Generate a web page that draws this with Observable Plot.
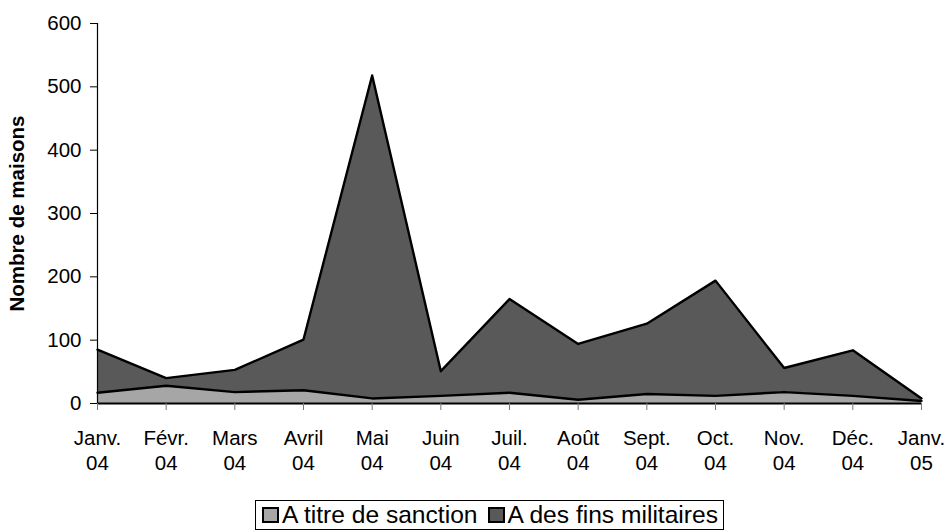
<!DOCTYPE html>
<html>
<head>
<meta charset="utf-8">
<script src="https://cdn.jsdelivr.net/npm/d3@7"></script>
<script src="https://cdn.jsdelivr.net/npm/@observablehq/plot@0.6"></script>
<style>
  body { margin: 0; background: #fff; font-family: "Liberation Sans", Arial, sans-serif; }
  #chart { width: 948px; }
  .legend { display: flex; justify-content: flex-start; margin-top: 5px; padding-left: 255px; }
  .legend .box { border: 1px solid #000; padding: 0 5px 0 6px; font-size: 24.6px; color: #000; display: flex; align-items: center; gap: 10px; line-height: 28px; }
  .legend .item { display: flex; align-items: center; gap: 3px; }
  .legend .sw { width: 17px; height: 16px; border: 2px solid #000; box-sizing: border-box; display: inline-block; }
</style>
</head>
<body>
<div id="chart"></div>
<script>
const months = ["Janv.\n04","Févr.\n04","Mars\n04","Avril\n04","Mai\n04","Juin\n04","Juil.\n04","Août\n04","Sept.\n04","Oct.\n04","Nov.\n04","Déc.\n04","Janv.\n05"];
const seriesNames = ["A titre de sanction", "A des fins militaires"];
const sanction = [17, 28, 18, 21, 8, 12, 17, 6, 15, 12, 18, 12, 4];
const militaires = [68, 12, 35, 80, 510, 39, 148, 88, 111, 182, 38, 72, 4];
const yTicks = [0, 100, 200, 300, 400, 500, 600];
const colors = ["#A6A6A6", "#595959"];

const data = [];
months.forEach((m, i) => {
  data.push({i, series: seriesNames[0], value: sanction[i]});
  data.push({i, series: seriesNames[1], value: militaires[i]});
});

const stackOpts = {x: "i", y: "value", z: "series", order: seriesNames};

const plot = Plot.plot({
  width: 948,
  height: 495,
  marginLeft: 97,
  marginRight: 27,
  marginTop: 23,
  marginBottom: 92,
  style: {fontFamily: "Liberation Sans, Arial, sans-serif", fontSize: "20.5px", color: "#000", background: "#fff"},
  x: {type: "linear", domain: [0, months.length - 1]},
  y: {domain: [0, 600]},
  color: {domain: seriesNames, range: colors},
  marks: [
    Plot.areaY(data, Plot.stackY({...stackOpts, fill: "series", fillOpacity: 1})),
    Plot.lineY(data, Plot.stackY2({...stackOpts, stroke: "#000", strokeWidth: 2.4})),
    Plot.ruleX([0], {y1: 0, y2: 600, stroke: "#000", strokeWidth: 1.2}),
    Plot.ruleY([0], {stroke: "#000", strokeWidth: 2.2}),
    Plot.axisY({ticks: yTicks, tickSize: 7, tickPadding: 9, label: "Nombre de maisons", labelAnchor: "center", labelArrow: "none", labelOffset: 88, fontSize: 20.5, stroke: "#000"}),
    Plot.axisX({ticks: d3.range(0, months.length), tickFormat: i => months[i], tickSize: 7, tickPadding: 17, lineHeight: 1.2, fontSize: 20.5, label: null, stroke: "#777"})
  ]
});

plot.querySelectorAll("text").forEach(t => {
  if (t.textContent === "Nombre de maisons") { t.setAttribute("font-weight", "bold"); }
});

document.getElementById("chart").appendChild(plot);

const legend = document.createElement("div");
legend.className = "legend";
const box = document.createElement("div");
box.className = "box";
seriesNames.forEach((s, k) => {
  const item = document.createElement("span");
  item.className = "item";
  const sw = document.createElement("span");
  sw.className = "sw";
  sw.style.background = colors[k];
  item.appendChild(sw);
  item.appendChild(document.createTextNode(s));
  box.appendChild(item);
});
legend.appendChild(box);
document.getElementById("chart").appendChild(legend);
</script>
</body>
</html>
